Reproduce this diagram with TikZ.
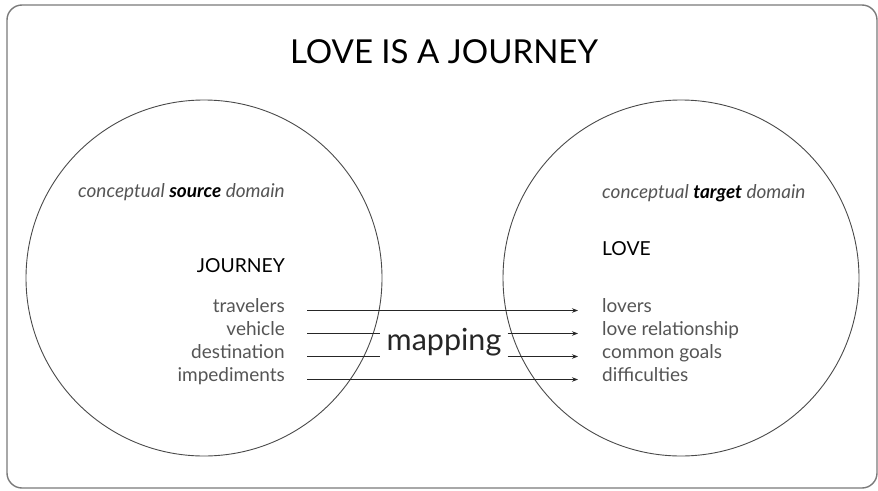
\documentclass[tikz,border=0pt]{standalone}
\usepackage{fontspec}
\setmainfont{Lato}
\usetikzlibrary{arrows.meta}
\definecolor{itemgray}{HTML}{555555}
\definecolor{framegray}{HTML}{7A7A7A}
\definecolor{ringgray}{HTML}{4A4A4A}
\begin{document}
\begin{tikzpicture}[x=1pt, y=-1pt,
    domaincircle/.style={circle, draw=ringgray, line width=0.9pt, minimum size=356pt, inner sep=0pt},
    domlabel/.style={font=\fontsize{19}{22}\selectfont\itshape, text=itemgray, inner sep=0pt},
    concept/.style={font=\fontsize{19.3}{22}\selectfont, inner sep=0pt},
    item/.style={font=\fontsize{19}{22}\selectfont, text=itemgray, inner sep=0pt, text height=0.6em, text depth=0.3em},
    srcitem/.style={item, anchor=base east},
    tgtitem/.style={item, anchor=base west},
    mapline/.style={draw=black!85, line width=0.8pt},
    maparrow/.style={mapline, -{Stealth[length=6pt, width=4.5pt]}}]
  \useasboundingbox (0,0) rectangle (878,490);
  \draw[framegray, line width=1.4pt, rounded corners=15pt] (7,5) rectangle (877,488);

  \node[font=\fontsize{33}{38}\selectfont, anchor=base] (title) at (444,63) {LOVE IS A JOURNEY};

  % the two domains
  \node[domaincircle] (source) at (204,278) {};
  \node[domaincircle] (target) at (681,278) {};
  \node[domlabel, anchor=base east] (srclabel) at (285,197) {conceptual \textcolor{black}{\textbf{source}} domain};
  \node[domlabel, anchor=base west] (tgtlabel) at (602,198) {conceptual \textcolor{black}{\textbf{target}} domain};
  \node[concept, anchor=base east] (journey) at (285,272) {JOURNEY};
  \node[concept, anchor=base west] (love) at (602,255) {LOVE};

  % correspondences
  \node[srcitem] (travelers) at (285,312) {travelers};
  \node[srcitem] (vehicle) at (285,335) {vehicle};
  \node[srcitem] (destination) at (285,358) {destination};
  \node[srcitem] (impediments) at (285,381) {impediments};
  \node[tgtitem] (lovers) at (602,312) {lovers};
  \node[tgtitem] (relationship) at (602,335) {love relationship};
  \node[tgtitem] (goals) at (602,358) {common goals};
  \node[tgtitem] (difficulties) at (602,381) {difficulties};

  \node[font=\fontsize{30.5}{36}\selectfont, text=black!85, anchor=base, inner xsep=6pt] (mapping) at (444,350) {mapping};

  \draw[maparrow] ([xshift=22pt]travelers.east) -- ([xshift=-24pt]lovers.west);
  \draw[mapline] ([xshift=22pt]vehicle.east) -- (vehicle.east -| mapping.west);
  \draw[maparrow] (relationship.west -| mapping.east) -- ([xshift=-24pt]relationship.west);
  \draw[mapline] ([xshift=22pt]destination.east) -- (destination.east -| mapping.west);
  \draw[maparrow] (goals.west -| mapping.east) -- ([xshift=-24pt]goals.west);
  \draw[maparrow] ([xshift=22pt]impediments.east) -- ([xshift=-24pt]difficulties.west);
\end{tikzpicture}
\end{document}
